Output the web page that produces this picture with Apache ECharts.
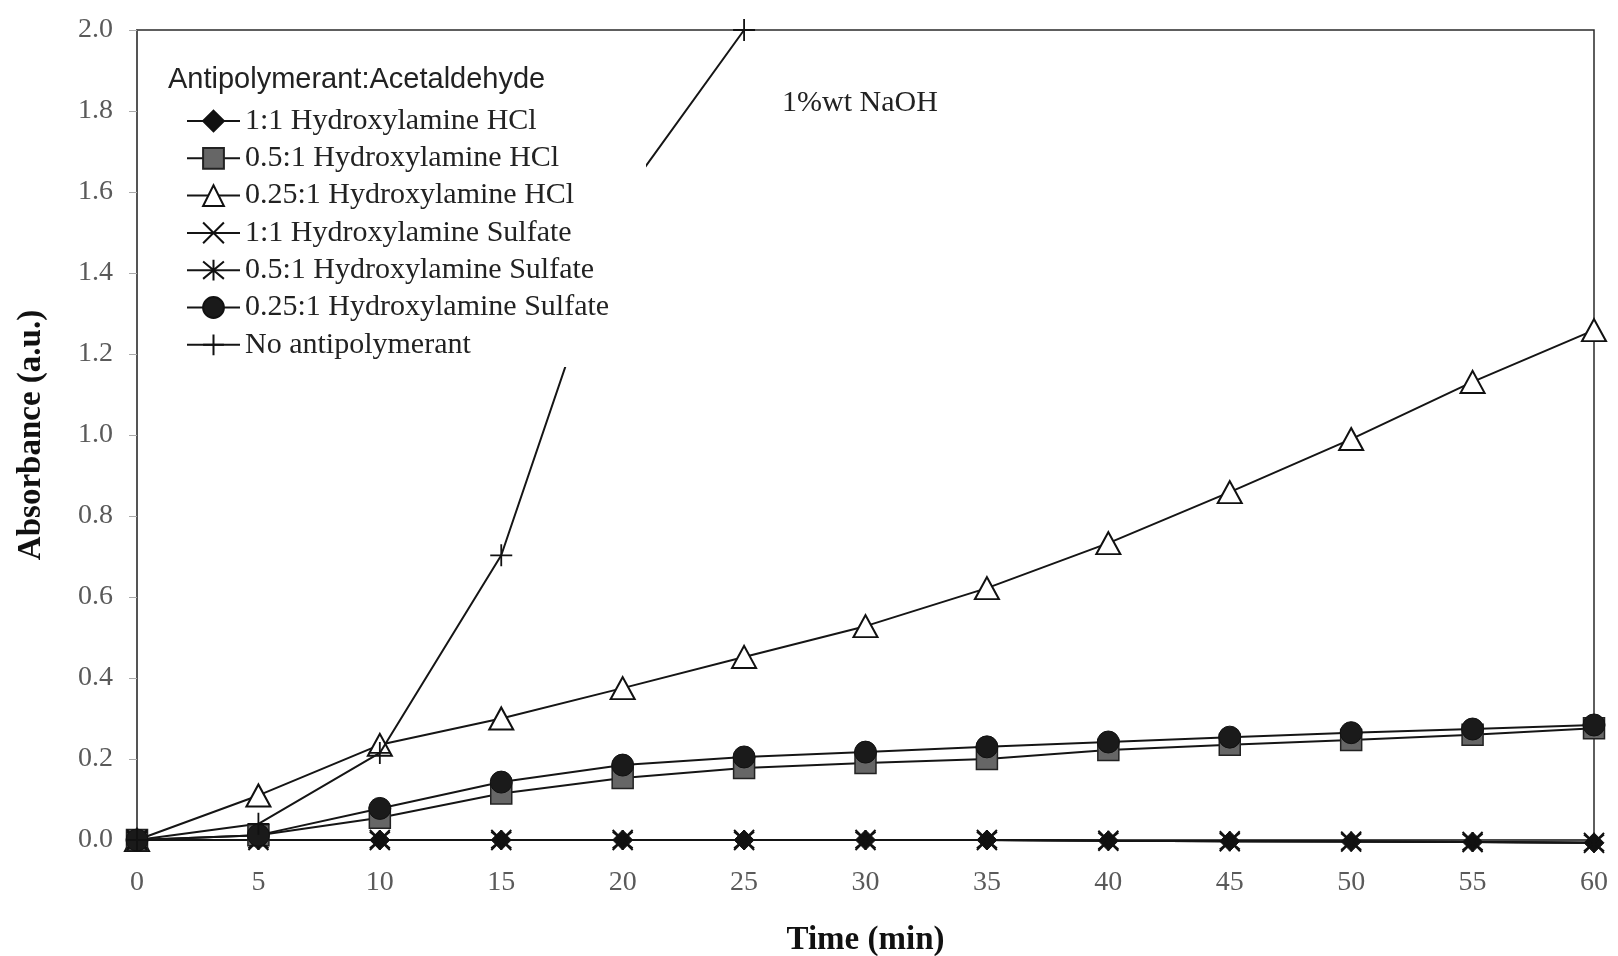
<!DOCTYPE html>
<html>
<head>
<meta charset="utf-8">
<script src="https://cdn.jsdelivr.net/npm/echarts@6/dist/echarts.min.js"></script>
<style>
html,body{margin:0;padding:0;background:#fff;}
#chart{width:1618px;height:956px;}
</style>
</head>
<body>
<div id="chart"></div>
<script>
// ---- data ----
const timeMin = [0, 5, 10, 15, 20, 25, 30, 35, 40, 45, 50, 55, 60];
const timeNoAnti = [0, 5, 10, 15, 20, 25];
const hcl_1_1     = [0, 0, 0, 0, 0, 0, 0, 0, -0.002, -0.003, -0.004, -0.005, -0.007];
const hcl_05_1    = [0, 0.012, 0.055, 0.115, 0.153, 0.178, 0.19, 0.20, 0.222, 0.235, 0.247, 0.26, 0.276];
const hcl_025_1   = [0, 0.11, 0.235, 0.30, 0.375, 0.452, 0.528, 0.622, 0.733, 0.859, 0.99, 1.131, 1.259];
const sulf_1_1    = [0, 0, 0, 0, 0, 0, 0, 0, -0.002, -0.003, -0.004, -0.005, -0.007];
const sulf_05_1   = [0, 0, 0, 0, 0, 0, 0, 0, -0.002, -0.003, -0.004, -0.005, -0.007];
const sulf_025_1  = [0, 0.012, 0.078, 0.143, 0.185, 0.205, 0.217, 0.23, 0.242, 0.254, 0.265, 0.274, 0.284];
const noAnti      = [0, 0.04, 0.215, 0.703, 1.585, 2.0];

const seriesNames = [
  '1:1 Hydroxylamine HCl',
  '0.5:1 Hydroxylamine HCl',
  '0.25:1 Hydroxylamine HCl',
  '1:1 Hydroxylamine Sulfate',
  '0.5:1 Hydroxylamine Sulfate',
  '0.25:1 Hydroxylamine Sulfate',
  'No antipolymerant'
];
const legendTitle = 'Antipolymerant:Acetaldehyde';
const annotation = '1%wt NaOH';
const xTitle = 'Time (min)';
const yTitle = 'Absorbance (a.u.)';

// ---- build ----
const pairs = (xs, ys) => ys.map((v, i) => [xs[i], v]);
const SERIF = 'Liberation Serif';
const LINE = '#151515';

const X_PATH = 'path://M0,0L20,20M20,0L0,20';
const AST_PATH = 'path://M0,0L20,20M20,0L0,20M10,-2L10,22';
const PLUS_PATH = 'path://M10,0L10,20M0,10L20,10';

function mk(name, xs, ys, symbol, size, itemStyle, z) {
  return {
    name: name,
    type: 'line',
    data: pairs(xs, ys),
    symbol: symbol,
    symbolSize: size,
    showSymbol: true,
    clip: false,
    lineStyle: { color: LINE, width: 2 },
    itemStyle: itemStyle,
    emphasis: { disabled: true },
    z: z
  };
}

const series = [
  mk(seriesNames[0], timeMin, hcl_1_1, 'diamond', 20, { color: '#111', borderColor: '#111', borderWidth: 1 }, 2),
  mk(seriesNames[1], timeMin, hcl_05_1, 'rect', 21, { color: '#666', borderColor: '#222', borderWidth: 1.5 }, 2),
  mk(seriesNames[2], timeMin, hcl_025_1, 'triangle', [24, 22], { color: '#fff', borderColor: '#111', borderWidth: 2 }, 1),
  mk(seriesNames[3], timeMin, sulf_1_1, X_PATH, 20, { color: 'none', borderColor: '#111', borderWidth: 2 }, 2),
  mk(seriesNames[4], timeMin, sulf_05_1, AST_PATH, 20, { color: 'none', borderColor: '#111', borderWidth: 2 }, 2),
  mk(seriesNames[5], timeMin, sulf_025_1, 'circle', 22, { color: '#1a1a1a', borderColor: '#111', borderWidth: 1 }, 2),
  mk(seriesNames[6], timeNoAnti, noAnti, PLUS_PATH, 22, { color: 'none', borderColor: '#111', borderWidth: 1.8 }, 2)
];

const chart = echarts.init(document.getElementById('chart'), null, { renderer: 'canvas' });
chart.setOption({
  animation: false,
  backgroundColor: '#fff',
  grid: {
    left: 137, right: 24, top: 30, bottom: 116,
    outerBoundsMode: 'none', containLabel: false,
    show: true, borderColor: '#2a2a2a', borderWidth: 1.5, backgroundColor: 'transparent'
  },
  xAxis: {
    type: 'value', min: 0, max: 60, interval: 5,
    name: xTitle, nameLocation: 'middle', nameGap: 84,
    nameTextStyle: { fontFamily: SERIF, fontWeight: 'bold', fontSize: 33, color: '#111' },
    axisLine: { show: true, lineStyle: { color: '#444', width: 1.5 } },
    axisTick: { show: false },
    splitLine: { show: false },
    axisLabel: { fontFamily: SERIF, fontSize: 28, color: '#5a5a5a', margin: 29 }
  },
  yAxis: {
    type: 'value', min: 0, max: 2.0, interval: 0.2,
    name: yTitle, nameLocation: 'middle', nameGap: 89, nameRotate: 90,
    nameTextStyle: { fontFamily: SERIF, fontWeight: 'bold', fontSize: 33, color: '#111' },
    axisLine: { show: true, lineStyle: { color: '#555', width: 2 } },
    axisTick: { show: true, inside: false, length: 8, lineStyle: { color: '#aaa', width: 1 } },
    splitLine: { show: false },
    axisLabel: { fontFamily: SERIF, fontSize: 28, color: '#5a5a5a', margin: 24,
      formatter: v => v.toFixed(1) }
  },
  legend: {
    orient: 'vertical',
    left: 186, top: 106,
    padding: 0,
    itemWidth: 53, itemHeight: 26, itemGap: 7.3,
    selectedMode: false,
    z: 5,
    data: seriesNames,
    textStyle: { fontFamily: SERIF, fontSize: 30, color: '#222', lineHeight: 28, padding: [0, 0, 0, 0] }
  },
  graphic: [
    { type: 'rect', z: 3, silent: true,
      shape: { x: 158, y: 56, width: 488, height: 311 },
      style: { fill: '#fff', stroke: null } },
    { type: 'text', z: 6, silent: true, x: 168, y: 80,
      style: { text: legendTitle, font: '29px "Liberation Sans"', fill: '#222', textVerticalAlign: 'middle' } },
    { type: 'text', z: 6, silent: true, x: 782, y: 103,
      style: { text: annotation, font: '30px "Liberation Serif"', fill: '#222', textVerticalAlign: 'middle' } }
  ],
  series: series
});
</script>
</body>
</html>
